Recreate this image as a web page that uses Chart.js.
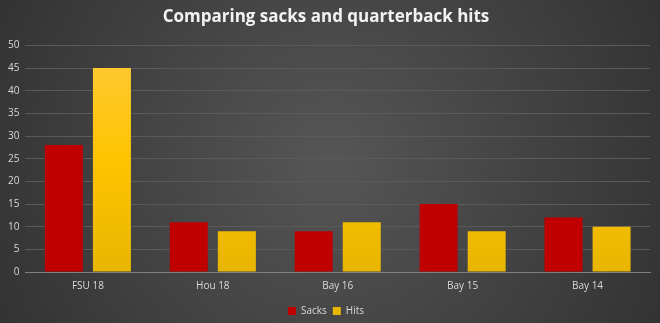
<!DOCTYPE html>
<html><head><meta charset="utf-8">
<script src="https://cdn.jsdelivr.net/npm/chart.js@4"></script>
<style>html,body{margin:0;padding:0;background:#3a3a3a}#wrap{width:660px;height:323px}</style>
</head><body><div id="wrap"><canvas id="c" width="660" height="323"></canvas></div>
<script>
const categories = ["FSU 18", "Hou 18", "Bay 16", "Bay 15", "Bay 14"];
const sacks = [28, 11, 9, 15, 12];
const hits = [45, 9, 11, 9, 10];
const yTicks = [0, 5, 10, 15, 20, 25, 30, 35, 40, 45, 50];

const bgPlugin = {
  id: 'bg',
  beforeDraw(chart) {
    const {ctx, width, height} = chart;
    ctx.save();
    const g = ctx.createRadialGradient(width/2, height/2, 10, width/2, height/2, width*0.6);
    g.addColorStop(0, '#555555');
    g.addColorStop(1, '#303030');
    ctx.fillStyle = g;
    ctx.fillRect(0, 0, width, height);
    ctx.restore();
  }
};

const ctx = document.getElementById('c').getContext('2d');
function hitsGrad(context) {
  const chart = context.chart;
  const a = chart.chartArea;
  if (!a) return '#ffc000';
  const g = chart.ctx.createLinearGradient(0, a.top, 0, a.bottom);
  g.addColorStop(0, '#ffca3a');
  g.addColorStop(0.5, '#ffc400');
  g.addColorStop(1, '#e8b500');
  return g;
}

new Chart(ctx, {
  type: 'bar',
  data: {
    labels: categories,
    datasets: [
      {label: 'Sacks', data: sacks, backgroundColor: '#c00000', categoryPercentage: 0.77, barPercentage: 0.79},
      {label: 'Hits', data: hits, backgroundColor: hitsGrad, categoryPercentage: 0.77, barPercentage: 0.79}
    ]
  },
  options: {
    responsive: false,
    animation: false,
    layout: {padding: {left: 2, right: 10, top: 0, bottom: -3}},
    plugins: {
      title: {display: true, text: 'Comparing sacks and quarterback hits', color: '#f2f2f2',
        font: {family: 'Open Sans', size: 17, weight: 'bold'}, padding: {top: 7, bottom: 18}},
      legend: {position: 'bottom', labels: {color: '#d9d9d9', boxWidth: 8, boxHeight: 8, padding: 6,
        font: {family: 'Open Sans', size: 10}}},
      tooltip: {enabled: false}
    },
    scales: {
      x: {
        grid: {display: false, drawTicks: false},
        border: {color: '#808080', width: 1},
        ticks: {color: '#d9d9d9', font: {family: 'Open Sans', size: 10}, padding: 8}
      },
      y: {
        min: 0, max: 50,
        afterBuildTicks(scale) { scale.ticks = yTicks.map(v => ({value: v})); },
        grid: {color: '#5a5a5a', drawTicks: false},
        border: {display: false},
        ticks: {color: '#d9d9d9', font: {family: 'Open Sans', size: 10}, padding: 6}
      }
    }
  },
  plugins: [bgPlugin]
});
</script></body></html>
